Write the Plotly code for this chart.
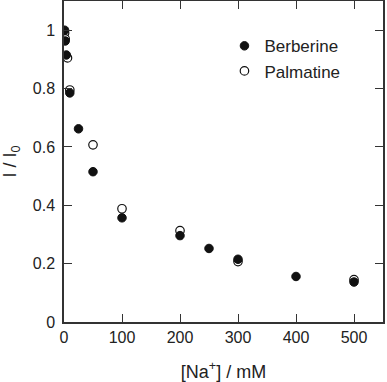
import plotly.graph_objects as go

berb_x = [1, 2, 4, 10, 25, 50, 100, 200, 250, 300, 400, 500]
berb_y = [1.0, 0.963, 0.915, 0.785, 0.662, 0.515, 0.357, 0.296, 0.252, 0.215, 0.156, 0.137]
palm_x = [1, 2, 6, 10, 50, 100, 200, 300, 500]
palm_y = [0.99, 0.97, 0.905, 0.795, 0.607, 0.388, 0.313, 0.207, 0.145]

x_ticks = [0, 100, 200, 300, 400, 500]
y_ticks = [0, 0.2, 0.4, 0.6, 0.8, 1]
y_ticklabels = ["0", "0.2", "0.4", "0.6", "0.8", "1"]

fig = go.Figure()
fig.add_trace(go.Scatter(x=palm_x, y=palm_y, mode="markers", name="Palmatine",
                         marker=dict(symbol="circle", size=8.5, color="white",
                                     line=dict(color="#111", width=1.2))))
fig.add_trace(go.Scatter(x=berb_x, y=berb_y, mode="markers", name="Berberine",
                         marker=dict(symbol="circle", size=8.5, color="#111",
                                     line=dict(color="#111", width=1))))

axis_common = dict(showline=True, linecolor="#333", linewidth=1.5, mirror="ticks",
                   ticks="inside", ticklen=8, tickcolor="#333", tickwidth=1,
                   showgrid=False, zeroline=False, automargin=False,
                   tickfont=dict(size=16, color="#222"))

fig.update_layout(
    width=387, height=382,
    margin=dict(l=64, r=4, t=1, b=60),
    paper_bgcolor="white", plot_bgcolor="white",
    font=dict(family="Liberation Sans, Arial, sans-serif", color="#222"),
    xaxis=dict(range=[0, 550], tickvals=x_ticks,
               title=dict(text="[Na<sup>+</sup>] / mM", font=dict(size=18), standoff=22),
               **axis_common),
    yaxis=dict(range=[0, 1.1], tickvals=y_ticks, ticktext=y_ticklabels,
               ticklabelstandoff=4,
               title=dict(text="I / I<sub>0</sub>", font=dict(size=18), standoff=18),
               **axis_common),
    legend=dict(x=0.503, y=0.915, xanchor="left", yanchor="top",
                traceorder="reversed", font=dict(size=17, color="#222"),
                bgcolor="rgba(0,0,0,0)", tracegroupgap=0, itemwidth=30),
    showlegend=True,
)

fig.write_html("out.html", config={"displayModeBar": False},
               post_script="document.body.style.margin='0';")
